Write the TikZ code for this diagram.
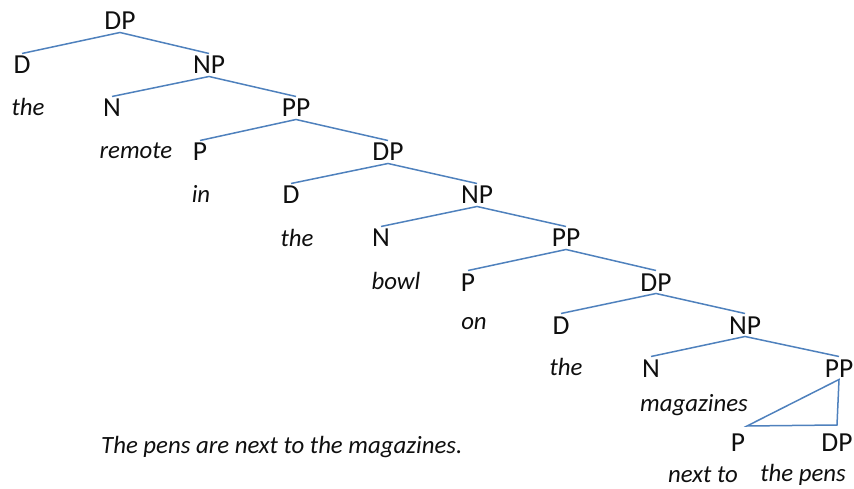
\documentclass[tikz,border=0pt]{standalone}
\usepackage{fontspec}
\setmainfont{Carlito}
\usetikzlibrary{positioning}

\definecolor{branch}{RGB}{79,129,189}
\definecolor{ink}{RGB}{15,15,15}

\tikzset{
  cat/.style={inner sep=0pt, outer sep=2.5pt, text=ink,
    text height=18pt, text depth=0pt,
    font=\fontsize{27.5}{32}\selectfont},
  word/.style={inner sep=0pt, text=ink,
    font=\fontsize{24.8}{29}\selectfont\itshape},
  edge/.style={draw=branch, line width=1.5pt}
}

\begin{document}
\begin{tikzpicture}[x=1pt, y=-1pt]
  \useasboundingbox (0,0) rectangle (854,489);

  % categories, one row at a time
  \node[cat] (dp1) at (120,21) {DP};
  \node[cat] (d1)  at (22,65)  {D};
  \node[cat] (np1) at (209,65) {NP};
  \node[cat] (n1)  at (112,108) {N};
  \node[cat] (pp1) at (296,108) {PP};
  \node[cat] (p1)  at (200,152) {P};
  \node[cat] (dp2) at (388,152) {DP};
  \node[cat] (d2)  at (291,195) {D};
  \node[cat] (np2) at (477,195) {NP};
  \node[cat] (n2)  at (381,238) {N};
  \node[cat] (pp2) at (566,238) {PP};
  \node[cat] (p2)  at (468,282) {P};
  \node[cat] (dp3) at (656,282) {DP};
  \node[cat] (d3)  at (561,325) {D};
  \node[cat] (np3) at (745,325) {NP};
  \node[cat] (n3)  at (651,368) {N};
  \node[cat] (pp3) at (839,368) {PP};
  \node[cat] (p3)  at (738,442) {P};
  \node[cat] (dp4) at (837,442) {DP};

  % the words under the heads
  \node[word] (the1) at (28,107)  {the};
  \node[word] (remote) at (136,151) {remote};
  \node[word] (in) at (201,194) {in};
  \node[word] (the2) at (297,238) {the};
  \node[word] (bowl) at (396,281) {bowl};
  \node[word] (on) at (474,324) {on};
  \node[word] (the3) at (566,367) {the};
  \node[word] (mags) at (694,405) {magazines};
  \node[word] (nextto) at (703,475) {next to};
  \node[word] (pens) at (803,475) {the pens};

  \node[word, anchor=west] (sent) at (101,447) {The pens are next to the magazines.};

  % branches
  \foreach \m/\l/\r in {dp1/d1/np1, np1/n1/pp1, pp1/p1/dp2, dp2/d2/np2,
                        np2/n2/pp2, pp2/p2/dp3, dp3/d3/np3, np3/n3/pp3}
    {\draw[edge] (\l.north) -- (\m.south) -- (\r.north);}

  % unanalysed PP
  \draw[edge] (pp3.south) -- (747,426) -- (837,425) -- cycle;
\end{tikzpicture}
\end{document}
